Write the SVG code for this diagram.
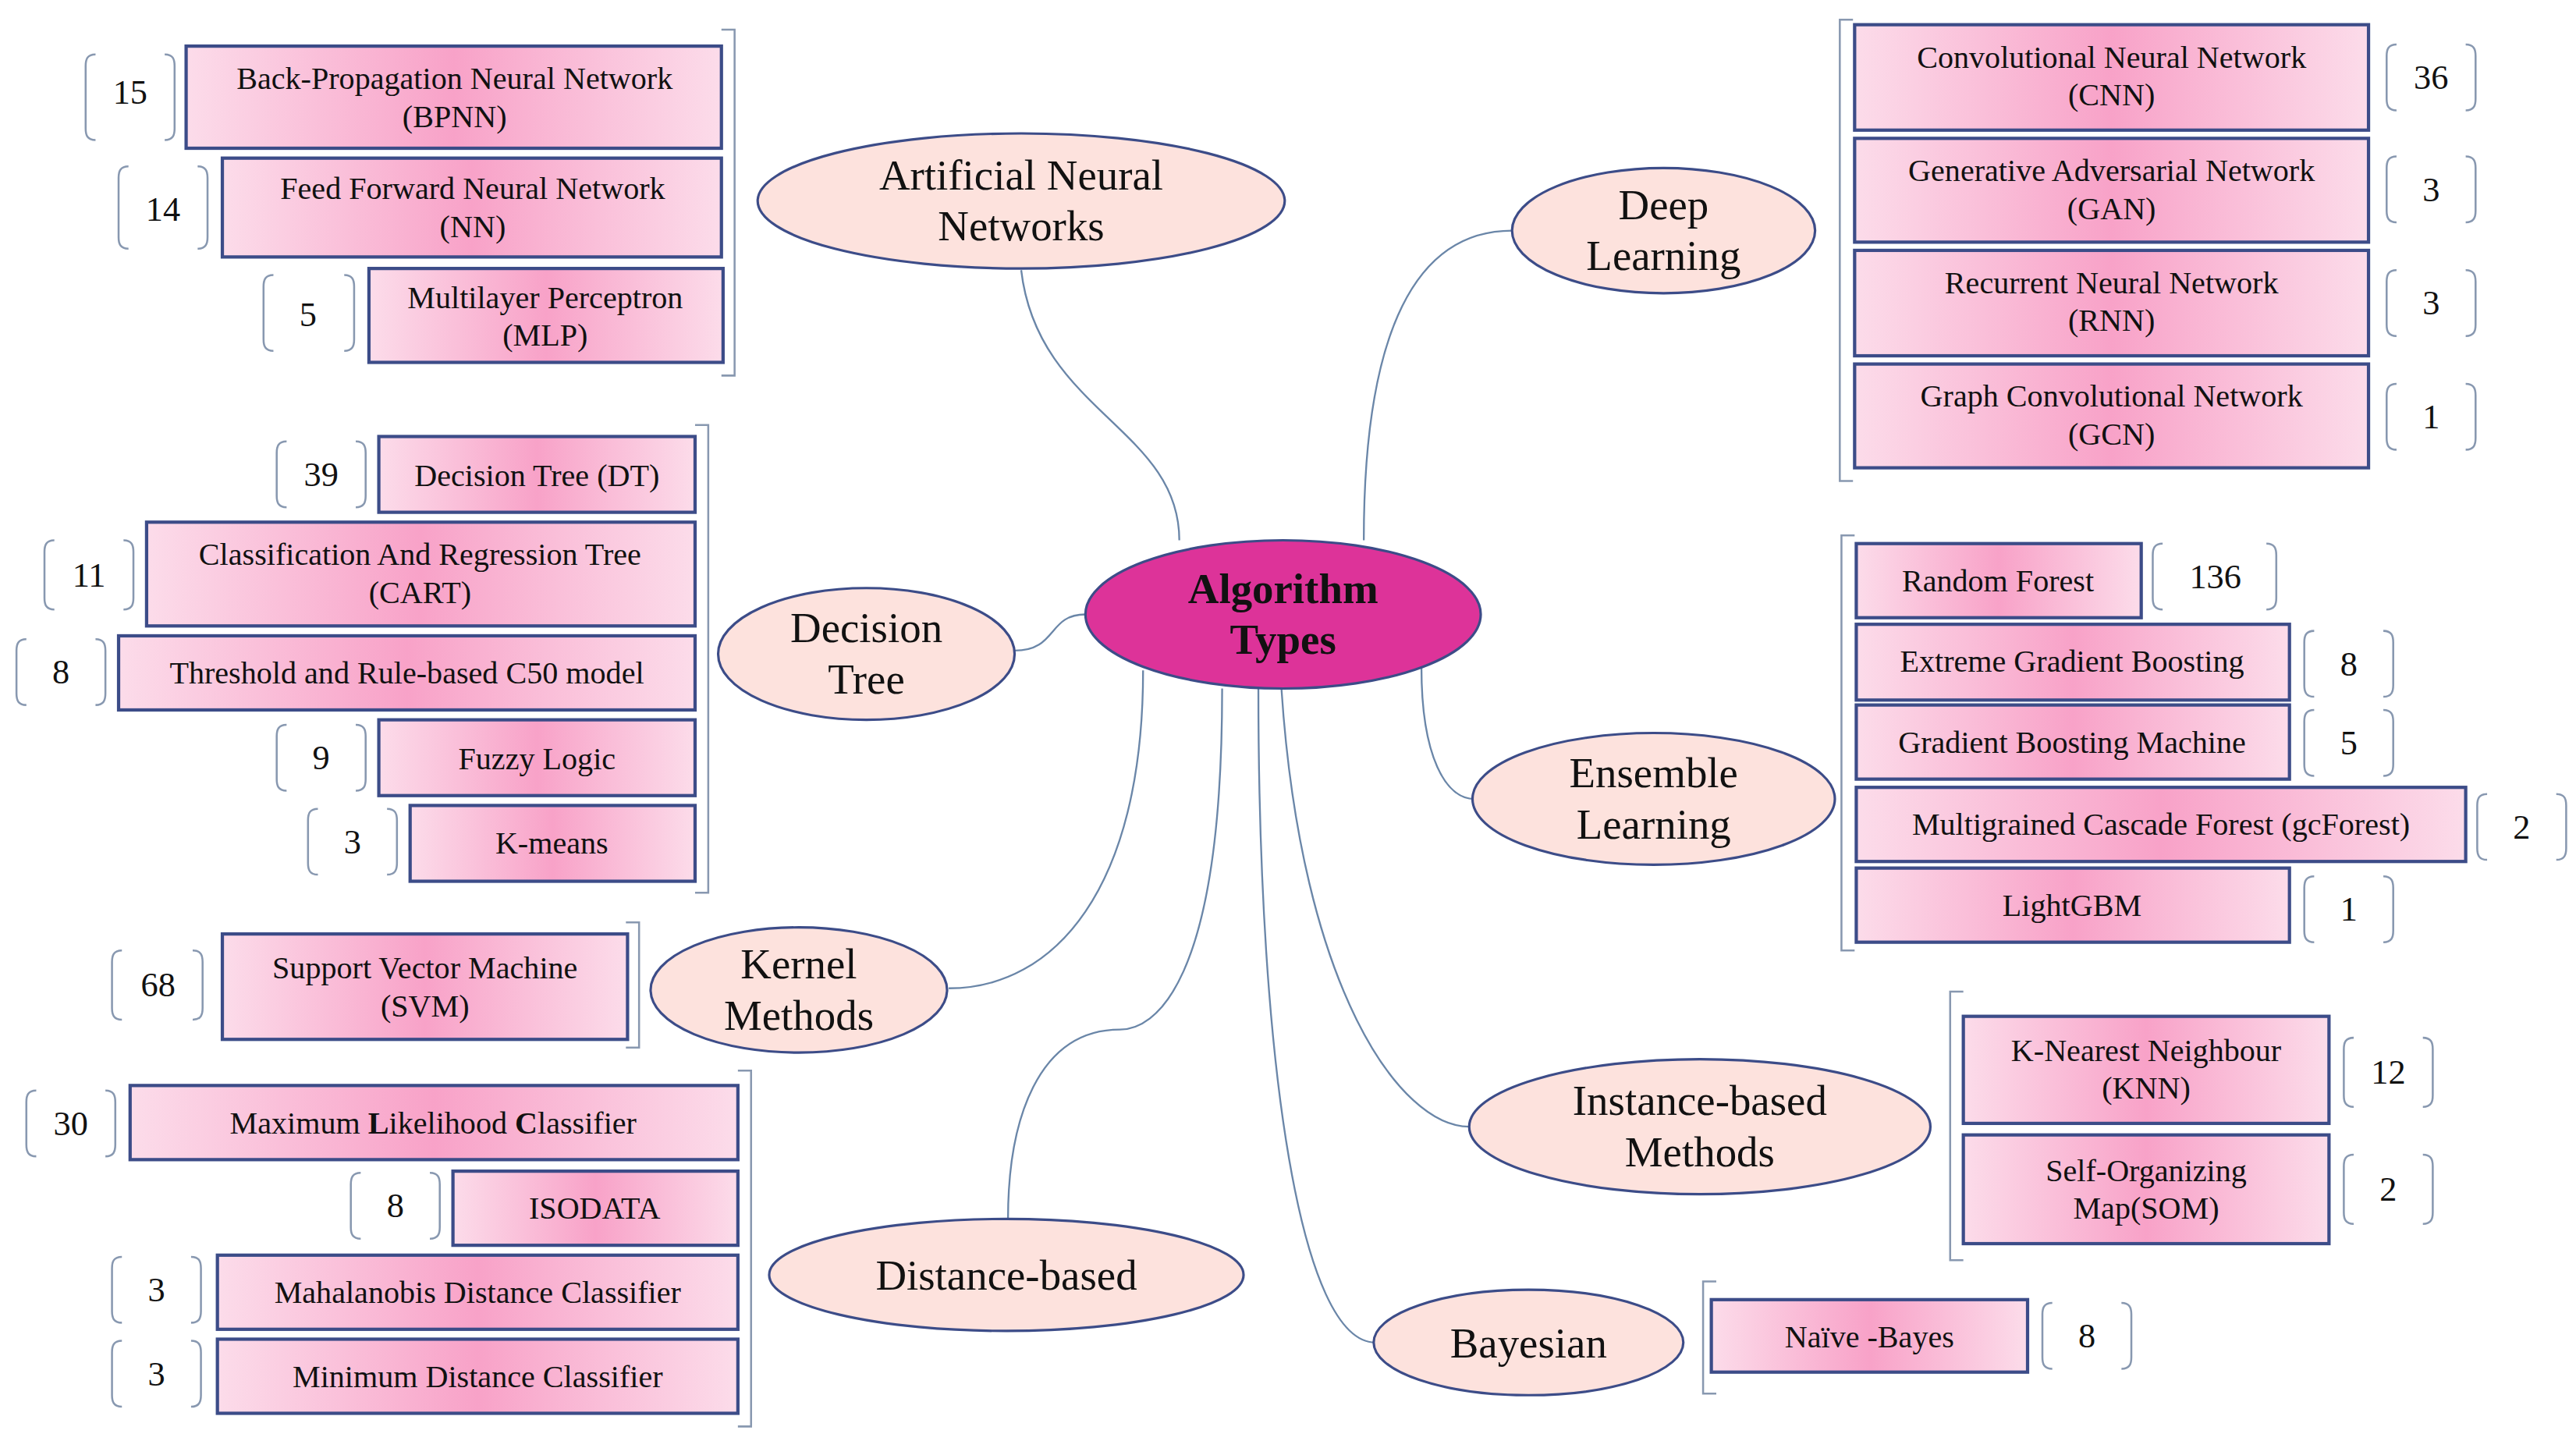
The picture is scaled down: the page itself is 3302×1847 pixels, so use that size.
<svg xmlns="http://www.w3.org/2000/svg" width="3302" height="1847" viewBox="0 0 3302 1847">
<defs>
<linearGradient id="pk" x1="0" y1="0" x2="1" y2="0">
<stop offset="0" stop-color="#fcdcea"/><stop offset="0.5" stop-color="#f8a2c8"/><stop offset="1" stop-color="#fcdcea"/>
</linearGradient>
<style>
text{font-family:"Liberation Serif","DejaVu Serif",serif;fill:#111;text-anchor:middle}
.leaf rect{fill:url(#pk);stroke:#3c4c88;stroke-width:2}
.leaf text{font-size:19px}
.cat ellipse{fill:#fde2dd;stroke:#3c4c88;stroke-width:1.5}
.cat text{font-size:26px}
.br{fill:none;stroke:#8898b0;stroke-width:1.2}
.num{font-size:21px}
.con path{fill:none;stroke:#6a86a8;stroke-width:1.1}
</style>
</defs>
<rect width="3302" height="1847" fill="#fff"/>
<g transform="scale(2.1113)">
<g class="con" id="connectors">
<path d="M716,328 C716,260 630,250 620,164"/>
<path d="M828,328 C828,200 860,140 918,140"/>
<path d="M659,373 C636,373 642,395 616,395"/>
<path d="M863,405 C863,460 878,485 895,485"/>
<path d="M694,407 C694,540 640,600 576,600"/>
<path d="M778,418 C790,600 850,684 892,684"/>
<path d="M742,418 C742,600 700,625 680,625 C630,625 612,680 612,740"/>
<path d="M764,418 C764,650 790,815 835,815"/>
</g>
<g id="center">
<ellipse cx="779" cy="373" rx="120" ry="45" fill="#dd3399" stroke="#3c4c88" stroke-width="1.5"/>
<text x="779" y="366" font-size="26" font-weight="bold">Algorithm</text>
<text x="779" y="397" font-size="26" font-weight="bold">Types</text>
</g>
<g class="cat" id="ann"><ellipse cx="620" cy="122" rx="160" ry="41"/><text x="620" y="115">Artificial Neural</text><text x="620" y="146">Networks</text></g>
<g class="cat" id="dl"><ellipse cx="1010" cy="140" rx="92" ry="38"/><text x="1010" y="133">Deep</text><text x="1010" y="164">Learning</text></g>
<g class="cat" id="dt"><ellipse cx="526" cy="397" rx="90" ry="40"/><text x="526" y="390">Decision</text><text x="526" y="421">Tree</text></g>
<g class="cat" id="el"><ellipse cx="1004" cy="485" rx="110" ry="40"/><text x="1004" y="478">Ensemble</text><text x="1004" y="509">Learning</text></g>
<g class="cat" id="km"><ellipse cx="485" cy="601" rx="90" ry="38"/><text x="485" y="594">Kernel</text><text x="485" y="625">Methods</text></g>
<g class="cat" id="ib"><ellipse cx="1032" cy="684" rx="140" ry="41"/><text x="1032" y="677">Instance-based</text><text x="1032" y="708">Methods</text></g>
<g class="cat" id="db"><ellipse cx="611" cy="774" rx="144" ry="34"/><text x="611" y="783">Distance-based</text></g>
<g class="cat" id="by"><ellipse cx="928" cy="815" rx="94" ry="32"/><text x="928" y="824">Bayesian</text></g>

<g id="group-brackets" class="br">
<path d="M438,18 H446 V228 H438"/>
<path d="M1125,12 H1117 V292 H1125"/>
<path d="M422,258 H430 V542 H422"/>
<path d="M1126,325 H1118 V577 H1126"/>
<path d="M380,560 H388 V636 H380"/>
<path d="M1192,602 H1184 V765 H1192"/>
<path d="M448,650 H456 V866 H448"/>
<path d="M1042,778 H1034 V846 H1042"/>
</g>

<g id="ann-leaves" class="leaf">
<g id="bpnn"><rect x="113" y="28" width="325" height="62"/><text x="276" y="54">Back-Propagation Neural Network</text><text x="276" y="77">(BPNN)</text></g>
<g id="nn"><rect x="135" y="96" width="303" height="60"/><text x="287" y="121">Feed Forward Neural Network</text><text x="287" y="144">(NN)</text></g>
<g id="mlp"><rect x="224" y="163" width="215" height="57"/><text x="331" y="187">Multilayer Perceptron</text><text x="331" y="210">(MLP)</text></g>
</g>
<g id="dl-leaves" class="leaf">
<g id="cnn"><rect x="1126" y="15" width="312" height="64"/><text x="1282" y="41">Convolutional Neural Network</text><text x="1282" y="64">(CNN)</text></g>
<g id="gan"><rect x="1126" y="84" width="312" height="63"/><text x="1282" y="110">Generative Adversarial Network</text><text x="1282" y="133">(GAN)</text></g>
<g id="rnn"><rect x="1126" y="152" width="312" height="64"/><text x="1282" y="178">Recurrent Neural Network</text><text x="1282" y="201">(RNN)</text></g>
<g id="gcn"><rect x="1126" y="221" width="312" height="63"/><text x="1282" y="247">Graph Convolutional Network</text><text x="1282" y="270">(GCN)</text></g>
</g>
<g id="dt-leaves" class="leaf">
<g id="dtl"><rect x="230" y="265" width="192" height="46"/><text x="326" y="295">Decision Tree (DT)</text></g>
<g id="cart"><rect x="89" y="317" width="333" height="63"/><text x="255" y="343">Classification And Regression Tree</text><text x="255" y="366">(CART)</text></g>
<g id="c50"><rect x="72" y="386" width="350" height="45"/><text x="247" y="415">Threshold and Rule-based C50 model</text></g>
<g id="fuzzy"><rect x="230" y="437" width="192" height="46"/><text x="326" y="467">Fuzzy Logic</text></g>
<g id="kmeans"><rect x="249" y="489" width="173" height="46"/><text x="335" y="518">K-means</text></g>
</g>
<g id="el-leaves" class="leaf">
<g id="rf"><rect x="1127" y="330" width="173" height="45"/><text x="1213" y="359">Random Forest</text></g>
<g id="xgb"><rect x="1127" y="379" width="263" height="46"/><text x="1258" y="408">Extreme Gradient Boosting</text></g>
<g id="gbm"><rect x="1127" y="428" width="263" height="45"/><text x="1258" y="457">Gradient Boosting Machine</text></g>
<g id="gcf"><rect x="1127" y="478" width="370" height="45"/><text x="1312" y="507">Multigrained Cascade Forest (gcForest)</text></g>
<g id="lgbm"><rect x="1127" y="527" width="263" height="45"/><text x="1258" y="556">LightGBM</text></g>
</g>
<g id="km-leaves" class="leaf">
<g id="svm"><rect x="135" y="567" width="246" height="64"/><text x="258" y="594">Support Vector Machine</text><text x="258" y="617">(SVM)</text></g>
</g>
<g id="ib-leaves" class="leaf">
<g id="knn"><rect x="1192" y="617" width="222" height="65"/><text x="1303" y="644">K-Nearest Neighbour</text><text x="1303" y="667">(KNN)</text></g>
<g id="som"><rect x="1192" y="689" width="222" height="66"/><text x="1303" y="717">Self-Organizing</text><text x="1303" y="740">Map(SOM)</text></g>
</g>
<g id="db-leaves" class="leaf">
<g id="mlc"><rect x="79" y="659" width="369" height="45"/><text x="263" y="688">Maximum <tspan font-weight="bold">L</tspan>ikelihood <tspan font-weight="bold">C</tspan>lassifier</text></g>
<g id="iso"><rect x="275" y="711" width="173" height="45"/><text x="361" y="740">ISODATA</text></g>
<g id="mdc"><rect x="132" y="762" width="316" height="45"/><text x="290" y="791">Mahalanobis Distance Classifier</text></g>
<g id="mindc"><rect x="132" y="813" width="316" height="45"/><text x="290" y="842">Minimum Distance Classifier</text></g>
</g>
<g id="by-leaves" class="leaf">
<g id="nb"><rect x="1039" y="789" width="192" height="44"/><text x="1135" y="818">Naïve -Bayes</text></g>
</g>

<g id="counts">
<g class="br">
<path d="M58,33 C53,33 52,36 52,40 V78 C52,82 53,85 58,85 M100,33 C105,33 106,36 106,40 V78 C106,82 105,85 100,85"/>
<path d="M78,101 C73,101 72,104 72,108 V144 C72,148 73,151 78,151 M120,101 C125,101 126,104 126,108 V144 C126,148 125,151 120,151"/>
<path d="M166,167 C161,167 160,170 160,174 V206 C160,210 161,213 166,213 M209,167 C214,167 215,170 215,174 V206 C215,210 214,213 209,213"/>
<path d="M1455,27 C1450,27 1449,30 1449,34 V60 C1449,64 1450,67 1455,67 M1497,27 C1502,27 1503,30 1503,34 V60 C1503,64 1502,67 1497,67"/>
<path d="M1455,95 C1450,95 1449,98 1449,102 V128 C1449,132 1450,135 1455,135 M1497,95 C1502,95 1503,98 1503,102 V128 C1503,132 1502,135 1497,135"/>
<path d="M1455,164 C1450,164 1449,167 1449,171 V197 C1449,201 1450,204 1455,204 M1497,164 C1502,164 1503,167 1503,171 V197 C1503,201 1502,204 1497,204"/>
<path d="M1455,233 C1450,233 1449,236 1449,240 V266 C1449,270 1450,273 1455,273 M1497,233 C1502,233 1503,236 1503,240 V266 C1503,270 1502,273 1497,273"/>
<path d="M174,268 C169,268 168,271 168,275 V301 C168,305 169,308 174,308 M216,268 C221,268 222,271 222,275 V301 C222,305 221,308 216,308"/>
<path d="M33,328 C28,328 27,331 27,335 V363 C27,367 28,370 33,370 M75,328 C80,328 81,331 81,335 V363 C81,367 80,370 75,370"/>
<path d="M16,388 C11,388 10,391 10,395 V421 C10,425 11,428 16,428 M58,388 C63,388 64,391 64,395 V421 C64,425 63,428 58,428"/>
<path d="M174,440 C169,440 168,443 168,447 V473 C168,477 169,480 174,480 M216,440 C221,440 222,443 222,447 V473 C222,477 221,480 216,480"/>
<path d="M193,491 C188,491 187,494 187,498 V524 C187,528 188,531 193,531 M235,491 C240,491 241,494 241,498 V524 C241,528 240,531 235,531"/>
<path d="M1313,330 C1308,330 1307,333 1307,337 V363 C1307,367 1308,370 1313,370 M1376,330 C1381,330 1382,333 1382,337 V363 C1382,367 1381,370 1376,370"/>
<path d="M1405,383 C1400,383 1399,386 1399,390 V416 C1399,420 1400,423 1405,423 M1447,383 C1452,383 1453,386 1453,390 V416 C1453,420 1452,423 1447,423"/>
<path d="M1405,431 C1400,431 1399,434 1399,438 V464 C1399,468 1400,471 1405,471 M1447,431 C1452,431 1453,434 1453,438 V464 C1453,468 1452,471 1447,471"/>
<path d="M1510,482 C1505,482 1504,485 1504,489 V515 C1504,519 1505,522 1510,522 M1552,482 C1557,482 1558,485 1558,489 V515 C1558,519 1557,522 1552,522"/>
<path d="M1405,532 C1400,532 1399,535 1399,539 V565 C1399,569 1400,572 1405,572 M1447,532 C1452,532 1453,535 1453,539 V565 C1453,569 1452,572 1447,572"/>
<path d="M74,577 C69,577 68,580 68,584 V612 C68,616 69,619 74,619 M117,577 C122,577 123,580 123,584 V612 C123,616 122,619 117,619"/>
<path d="M1429,630 C1424,630 1423,633 1423,637 V665 C1423,669 1424,672 1429,672 M1471,630 C1476,630 1477,633 1477,637 V665 C1477,669 1476,672 1471,672"/>
<path d="M1429,701 C1424,701 1423,704 1423,708 V736 C1423,740 1424,743 1429,743 M1471,701 C1476,701 1477,704 1477,708 V736 C1477,740 1476,743 1471,743"/>
<path d="M22,662 C17,662 16,665 16,669 V695 C16,699 17,702 22,702 M64,662 C69,662 70,665 70,669 V695 C70,699 69,702 64,702"/>
<path d="M219,712 C214,712 213,715 213,719 V745 C213,749 214,752 219,752 M261,712 C266,712 267,715 267,719 V745 C267,749 266,752 261,752"/>
<path d="M74,763 C69,763 68,766 68,770 V796 C68,800 69,803 74,803 M116,763 C121,763 122,766 122,770 V796 C122,800 121,803 116,803"/>
<path d="M74,814 C69,814 68,817 68,821 V847 C68,851 69,854 74,854 M116,814 C121,814 122,817 122,821 V847 C122,851 121,854 116,854"/>
<path d="M1246,791 C1241,791 1240,794 1240,798 V824 C1240,828 1241,831 1246,831 M1288,791 C1293,791 1294,794 1294,798 V824 C1294,828 1293,831 1288,831"/>
</g>
<text class="num" x="79" y="63">15</text>
<text class="num" x="99" y="134">14</text>
<text class="num" x="187" y="198">5</text>
<text class="num" x="1476" y="54">36</text>
<text class="num" x="1476" y="122">3</text>
<text class="num" x="1476" y="191">3</text>
<text class="num" x="1476" y="260">1</text>
<text class="num" x="195" y="295">39</text>
<text class="num" x="54" y="356">11</text>
<text class="num" x="37" y="415">8</text>
<text class="num" x="195" y="467">9</text>
<text class="num" x="214" y="518">3</text>
<text class="num" x="1345" y="357">136</text>
<text class="num" x="1426" y="410">8</text>
<text class="num" x="1426" y="458">5</text>
<text class="num" x="1531" y="509">2</text>
<text class="num" x="1426" y="559">1</text>
<text class="num" x="96" y="605">68</text>
<text class="num" x="1450" y="658">12</text>
<text class="num" x="1450" y="729">2</text>
<text class="num" x="43" y="689">30</text>
<text class="num" x="240" y="739">8</text>
<text class="num" x="95" y="790">3</text>
<text class="num" x="95" y="841">3</text>
<text class="num" x="1267" y="818">8</text>
</g>
</g>
</svg>
